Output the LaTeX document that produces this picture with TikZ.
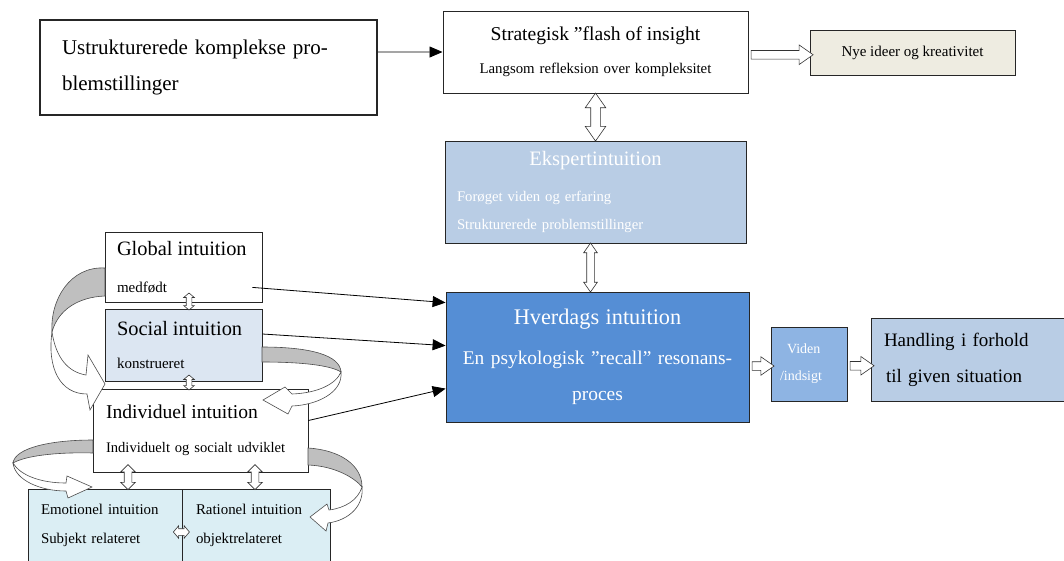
\documentclass[tikz,border=0pt]{standalone}
\usepackage{fontspec}
\setmainfont{Liberation Serif}
\usepackage{tikz}
\usetikzlibrary{arrows.meta,shapes.arrows,positioning,calc}
\definecolor{hvblue}{RGB}{85,142,213}
\definecolor{ekblue}{RGB}{185,205,229}
\definecolor{vdblue}{RGB}{142,180,227}
\definecolor{soblue}{RGB}{220,230,242}
\definecolor{emcyan}{RGB}{219,238,244}
\definecolor{nybeige}{RGB}{238,236,225}
\tikzstyle{box} = [draw=black!85, line width=0.8pt, inner ysep=0pt, align=left]
\tikzstyle{feed} = [line width=0.8pt, -{Triangle[length=13pt,width=11pt]}]
\tikzstyle{fat} = [single arrow, draw=black!80, fill=white, line width=0.6pt, single arrow tip angle=70]
\tikzstyle{fatboth} = [double arrow, draw=black!80, fill=white, line width=0.6pt, double arrow tip angle=70]
\tikzstyle{curlback} = [draw=black!70, fill=black!25, line width=0.6pt]
\tikzstyle{curlfront} = [draw=black!70, fill=white, line width=0.6pt]

\begin{document}
\begin{tikzpicture}[x=1pt, y=-1pt]
    \useasboundingbox (0,0) rectangle (1064,560);
    \fill[white] (0,0) rectangle (1064,560);

    % Top row
    \node[box, line width=1.6pt, minimum width=337pt, minimum height=95pt, text width=293pt, inner xsep=22pt,
          font=\fontsize{21}{36}\selectfont] (ustr) at (208.5,67.5)
          {Ustrukturerede komplekse pro-\\blemstillinger};
    \node[box, line width=1pt, minimum width=305pt, minimum height=82pt, text width=289pt, inner xsep=8pt,
          align=center, font=\fontsize{14.8}{33}\selectfont] (strat) at (595.5,52)
          {{\fontsize{19.6}{33}\selectfont Strategisk ”flash of insight}\\Langsom refleksion over kompleksitet};
    \node[box, fill=nybeige, minimum width=205pt, minimum height=45pt, align=center,
          font=\fontsize{15}{18}\selectfont] (nye) at (912.5,52.5) {Nye ideer og kreativitet};

    % Middle column
    \node[box, fill=ekblue, text=white, minimum width=301pt, minimum height=102pt, text width=277pt, inner xsep=12pt,
          font=\fontsize{14.7}{28}\selectfont] (eksp) at (595.5,192)
          {\hfill{\fontsize{20.5}{28}\selectfont Ekspertintuition}\hfill\mbox{}\\[8pt]Forøget viden og erfaring\\Strukturerede problemstillinger};
    \node[box, fill=hvblue, text=white, minimum width=303pt, minimum height=130pt, text width=291pt, inner xsep=6pt,
          align=center, font=\fontsize{19.4}{36}\selectfont] (hverd) at (597.5,357)
          {{\fontsize{22.3}{36}\selectfont Hverdags intuition}\\[4pt]En psykologisk ”recall” resonans-\\proces};
    \node[box, fill=vdblue, text=white, minimum width=76pt, minimum height=74pt, text width=58pt, inner xsep=9pt,
          font=\fontsize{14}{27}\selectfont] (viden) at (809,364) {\hspace*{7pt}Viden\\/indsigt};
    \node[box, fill=ekblue, minimum width=198pt, minimum height=83pt, text width=172pt, inner xsep=13pt,
          font=\fontsize{19}{36}\selectfont] (handl) at (970,359.5) {Handling i forhold\\\hspace*{2pt}til given situation};

    % Left stack
    \node[box, fill=white, minimum width=157pt, minimum height=70pt, text width=133pt, inner xsep=12pt,
          font=\fontsize{15}{37}\selectfont] (global) at (183.5,267)
          {{\fontsize{20.4}{37}\selectfont Global intuition}\\medfødt};
    \node[box, fill=soblue, minimum width=157pt, minimum height=72pt, text width=133pt, inner xsep=12pt,
          font=\fontsize{15}{33}\selectfont] (social) at (183.5,345)
          {{\fontsize{20.4}{33}\selectfont Social intuition}\\konstrueret};
    \node[box, fill=white, minimum width=215pt, minimum height=83pt, text width=189pt, inner xsep=13pt,
          font=\fontsize{14.6}{34}\selectfont] (indiv) at (200.5,430.5)
          {{\fontsize{19.6}{34}\selectfont Individuel intuition}\\Individuelt og socialt udviklet};
    \node[box, fill=emcyan, minimum width=154pt, minimum height=73pt, text width=128pt, inner xsep=13pt,
          font=\fontsize{14.9}{29}\selectfont] (emot) at (105,525.5) {Emotionel intuition\\Subjekt relateret};
    \node[box, fill=emcyan, minimum width=148pt, minimum height=73pt, text width=120pt, inner xsep=14pt,
          font=\fontsize{14.9}{29}\selectfont] (ration) at (256,525.5) {Rationel intuition\\objektrelateret};

    % Line arrows
    \draw[feed] ($(ustr.north east)!0.34!(ustr.south east)$) -- (strat.west);
    \draw[feed] ($(global.south east)+(-10,-15)$) -- ($(hverd.north west)+(0,11)$);
    \draw[feed] ($(social.east)+(0,-11)$) -- ($(hverd.north west)+(0,54)$);
    \draw[feed] ($(indiv.east)+(0,-10)$) -- ($(hverd.north west)+(0,97)$);

    % Block arrows
    \node[fat, minimum height=62pt, minimum width=19pt, inner sep=4pt, single arrow head extend=5.5pt]
          (s2n) at ($(strat.east)!0.5!(nye.west)+(0,2.5)$) {};
    \node[fatboth, rotate=90, minimum height=48pt, minimum width=20pt, inner sep=4.5pt, double arrow head extend=5.5pt]
          (s2e) at ($(strat.south)!0.5!(eksp.north)$) {};
    \node[fatboth, rotate=90, minimum height=49pt, minimum width=13pt, inner sep=3.5pt, double arrow head extend=3pt]
          (e2h) at ($(eksp.south)!0.5!(hverd.north)+(-6,0)$) {};
    \node[fat, minimum height=22pt, minimum width=18pt, inner sep=4pt, single arrow head extend=5pt]
          (h2v) at ($(hverd.east)!0.5!(viden.west)+(0,5.5)$) {};
    \node[fat, minimum height=24pt, minimum width=18pt, inner sep=4pt, single arrow head extend=5pt]
          (v2h) at ($(viden.east)!0.5!(handl.west)+(0,4)$) {};
    \node[fatboth, rotate=90, minimum height=17pt, minimum width=10pt, inner sep=2.5pt, double arrow head extend=2.5pt,
          double arrow tip angle=100] (g2s) at ($(global.south)!0.5!(social.north)+(5.5,-4)$) {};
    \node[fatboth, rotate=90, minimum height=15pt, minimum width=10pt, inner sep=2.5pt, double arrow head extend=2.5pt,
          double arrow tip angle=100] (s2i) at ($(social.south)!0.5!(indiv.north)+(-3,-2.5)$) {};
    \node[fatboth, rotate=90, minimum height=25pt, minimum width=14pt, inner sep=3.5pt, double arrow head extend=3.5pt,
          double arrow tip angle=90] (i2e) at ($(emot.north)+(23,-11.5)$) {};
    \node[fatboth, rotate=90, minimum height=25pt, minimum width=14pt, inner sep=3.5pt, double arrow head extend=3.5pt,
          double arrow tip angle=90] (i2r) at ($(ration.north)+(-1,-11.5)$) {};
    \node[fatboth, minimum height=16pt, minimum width=12pt, inner sep=3pt, double arrow head extend=3pt,
          double arrow tip angle=100] (e2r) at ($(emot.east)+(-1,6.5)$) {};

    % Curved arrows
    \draw[curlback] (105,268) .. controls (70,266) and (50,300) .. (52,332)
          .. controls (58,310) and (78,297) .. (105,296) -- cycle;
    \draw[curlfront] (52,332) .. controls (56,358) and (68,372) .. (86,375) -- (88,355) -- (105,384)
          -- (90,410) -- (87,394) .. controls (60,394) and (47,368) .. (52,332) -- cycle;

    \draw[curlback] (262,347) .. controls (310,347) and (340,355) .. (341,372)
          .. controls (330,365) and (300,362) .. (262,362) -- cycle;
    \draw[curlfront] (341,372) .. controls (343,392) and (318,405) .. (292,406) -- (288,414) -- (263,400)
          -- (285,387) -- (292,394) .. controls (318,393) and (336,384) .. (341,372) -- cycle;

    \draw[curlback] (93,440) .. controls (50,440) and (15,448) .. (13,463)
          .. controls (25,456) and (55,452) .. (93,453) -- cycle;
    \draw[curlfront] (13,463) .. controls (15,480) and (40,491) .. (66,491) -- (68,498) -- (92,487)
          -- (67,476) -- (66,483) .. controls (40,483) and (20,475) .. (13,463) -- cycle;

    \draw[curlback] (308,448) .. controls (340,450) and (362,465) .. (362,487)
          .. controls (355,478) and (335,466) .. (308,465) -- cycle;
    \draw[curlfront] (362,487) .. controls (364,505) and (350,520) .. (328,523) -- (326,531) -- (310,517)
          -- (327,504) -- (329,510) .. controls (345,508) and (358,500) .. (362,487) -- cycle;
\end{tikzpicture}
\end{document}
